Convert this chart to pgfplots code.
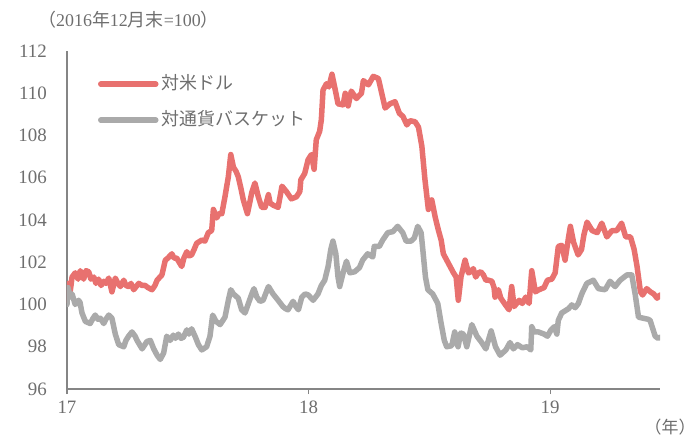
\documentclass[border=0pt]{standalone}
\usepackage{fontspec}
\setmainfont{Liberation Serif}
\newfontfamily\jp{Noto Sans CJK JP}
\usepackage{pgfplots}
\usepackage{pgfplotstable}
\pgfplotsset{compat=1.18}
\definecolor{cred}{HTML}{E8716F}
\definecolor{cgray}{HTML}{AAAAAA}
\definecolor{ctext}{HTML}{6E6E6E}
\definecolor{caxis}{HTML}{858585}

\pgfplotstableread{
x y
17.000 100.2
17.007 101.0
17.012 100.5
17.021 101.3
17.034 101.5
17.046 101.2
17.055 101.6
17.069 101.2
17.079 101.6
17.090 101.55
17.099 101.2
17.111 101.3
17.120 101.0
17.131 101.2
17.141 100.9
17.152 101.1
17.161 101.0
17.173 101.25
17.186 100.6
17.200 101.25
17.211 101.0
17.221 100.85
17.235 101.15
17.244 100.9
17.255 100.85
17.265 101.0
17.276 100.7
17.297 101.0
17.311 100.9
17.324 100.9
17.335 100.8
17.352 100.7
17.364 100.9
17.373 101.15
17.385 101.3
17.393 101.4
17.407 102.1
17.418 102.2
17.434 102.4
17.443 102.2
17.454 102.2
17.475 101.8
17.484 102.2
17.496 102.5
17.505 102.3
17.516 102.35
17.526 102.6
17.537 102.9
17.558 103.05
17.571 103.0
17.585 103.4
17.599 103.5
17.606 104.5
17.620 104.1
17.629 104.3
17.641 104.3
17.654 105.1
17.668 106.05
17.678 107.1
17.689 106.5
17.700 106.3
17.709 106.05
17.720 105.5
17.730 104.95
17.747 104.3
17.758 104.9
17.765 105.3
17.778 105.75
17.792 105.1
17.806 104.6
17.820 104.6
17.834 105.2
17.841 104.8
17.854 104.7
17.874 104.6
17.890 105.6
17.908 105.35
17.929 105.0
17.950 105.1
17.964 105.35
17.968 105.9
17.984 106.2
17.998 106.85
18.012 107.1
18.023 106.4
18.032 107.8
18.046 108.2
18.053 108.75
18.060 110.15
18.074 110.45
18.084 110.3
18.097 110.9
18.108 110.3
18.122 109.5
18.143 109.45
18.152 110.0
18.164 109.4
18.177 110.1
18.198 109.75
18.219 110.0
18.227 110.6
18.248 110.4
18.268 110.8
18.289 110.7
18.303 110.0
18.317 109.3
18.337 109.5
18.358 109.6
18.376 109.05
18.391 108.9
18.407 108.5
18.420 108.7
18.441 108.65
18.455 108.4
18.469 107.5
18.482 105.9
18.496 104.5
18.510 104.95
18.524 104.15
18.538 103.5
18.549 103.05
18.558 102.4
18.579 101.95
18.600 101.5
18.611 101.3
18.620 100.2
18.631 101.3
18.648 102.1
18.662 101.5
18.672 101.55
18.682 101.7
18.692 101.3
18.703 101.5
18.713 101.55
18.724 101.4
18.734 101.15
18.745 101.15
18.759 101.1
18.768 100.8
18.772 100.35
18.786 100.7
18.796 100.3
18.814 100.0
18.830 99.75
18.841 100.85
18.851 99.9
18.872 100.2
18.885 100.05
18.899 100.35
18.913 100.05
18.924 101.6
18.939 100.6
18.954 100.7
18.975 100.8
18.989 101.15
19.007 101.2
19.021 101.5
19.034 102.75
19.048 102.8
19.062 102.1
19.076 103.15
19.084 103.7
19.097 102.95
19.116 102.35
19.130 102.6
19.140 103.3
19.153 103.9
19.174 103.5
19.195 103.4
19.214 103.85
19.235 103.2
19.256 103.5
19.276 103.5
19.296 103.85
19.313 103.2
19.333 103.2
19.348 102.6
19.360 101.8
19.374 100.6
19.383 100.45
19.400 100.75
19.415 100.6
19.429 100.5
19.443 100.3
19.455 100.45
}\usd

\pgfplotstableread{
x y
17.000 100.0
17.004 100.8
17.014 100.35
17.021 100.5
17.034 100.0
17.048 100.2
17.054 100.1
17.062 99.6
17.076 99.2
17.096 99.1
17.108 99.35
17.117 99.5
17.128 99.3
17.138 99.35
17.152 99.1
17.161 99.3
17.173 99.5
17.186 99.35
17.200 98.6
17.214 98.1
17.235 98.0
17.244 98.3
17.255 98.5
17.269 98.7
17.282 98.5
17.290 98.3
17.311 97.9
17.331 98.25
17.345 98.3
17.359 97.9
17.373 97.6
17.386 97.4
17.400 97.7
17.413 98.5
17.427 98.3
17.440 98.55
17.449 98.4
17.461 98.6
17.472 98.4
17.482 98.45
17.496 98.8
17.505 98.6
17.516 98.85
17.530 98.5
17.544 98.1
17.558 97.85
17.578 98.0
17.592 98.5
17.603 99.5
17.617 99.2
17.634 99.05
17.654 99.4
17.668 100.2
17.678 100.7
17.689 100.5
17.709 100.3
17.723 99.75
17.737 99.6
17.751 100.05
17.765 100.5
17.774 100.75
17.786 100.35
17.799 100.15
17.812 100.2
17.822 100.5
17.834 100.85
17.853 100.5
17.874 100.2
17.894 99.9
17.905 99.8
17.915 99.75
17.936 100.15
17.948 99.9
17.958 99.75
17.972 100.35
17.986 100.5
17.999 100.45
18.019 100.2
18.039 100.5
18.053 100.9
18.067 101.15
18.081 101.8
18.092 102.6
18.101 103.0
18.113 102.4
18.122 101.3
18.129 100.85
18.143 101.5
18.157 102.05
18.171 101.5
18.191 101.55
18.211 101.75
18.224 102.1
18.245 102.4
18.266 102.25
18.272 102.75
18.293 102.75
18.307 103.05
18.328 103.4
18.349 103.45
18.369 103.7
18.390 103.4
18.404 103.0
18.424 103.0
18.438 103.15
18.452 103.7
18.466 103.4
18.473 102.6
18.484 101.3
18.494 100.7
18.514 100.5
18.535 100.05
18.549 99.1
18.562 98.3
18.572 98.0
18.593 98.05
18.605 98.7
18.619 98.0
18.630 98.65
18.641 98.6
18.655 98.0
18.676 99.05
18.697 98.5
18.717 98.2
18.734 97.9
18.756 98.75
18.774 98.0
18.793 97.6
18.817 97.85
18.834 98.2
18.848 97.9
18.865 98.1
18.885 97.95
18.905 98.0
18.920 97.85
18.924 98.95
18.934 98.7
18.952 98.7
18.975 98.6
18.989 98.5
19.004 98.8
19.017 98.95
19.028 98.6
19.034 99.25
19.048 99.6
19.076 99.8
19.090 99.98
19.104 99.85
19.117 100.05
19.131 100.5
19.152 101.0
19.179 101.15
19.200 100.75
19.228 100.7
19.248 101.1
19.269 100.85
19.290 101.15
19.318 101.4
19.338 101.4
19.352 100.5
19.366 99.4
19.386 99.35
19.406 99.3
19.414 99.25
19.435 98.5
19.447 98.4
19.455 98.45
}\basket

\begin{document}
\begin{tikzpicture}
\begin{axis}[
  scale only axis, width=593bp, height=338bp,
  xmin=17, xmax=19.455, ymin=96, ymax=112,
  clip mode=individual,
  axis x line*=bottom, axis y line*=left,
  axis line style={caxis, line width=1.2bp, -},
  xtick={17,18,19}, xticklabels={17,18,19},
  ytick={96,98,100,102,104,106,108,110,112},
  yticklabels={96,98,100,102,104,106,108,110,112},
  tick align=outside, major tick length=5bp,
  xtick style={caxis, line width=1.2bp},
  ytick style={draw=none},
  tick label style={font=\fontsize{19}{21}\selectfont, text=ctext, inner sep=0pt},
  yticklabel style={anchor=east, xshift=-15bp},
  xticklabel style={anchor=north, yshift=-7bp},
  legend style={draw=none, fill=none, at={(axis description cs:0.052,0.926)}, anchor=north west,
    inner sep=0pt, column sep=3bp, row sep=20bp,
    font=\jp\fontsize{18}{20}\selectfont, text=ctext,
    nodes={inner sep=0pt, text height=13bp, text depth=3bp}},
  legend cell align=left,
  legend image code/.code={\draw[#1, line width=5.5bp, line cap=round] (0bp,0bp) -- (55bp,0bp);},
]
\addplot[cred, line width=5.5bp, line join=round, line cap=round] table[x=x, y=y] {\usd};
\addlegendentry{対米ドル}
\addplot[cgray, line width=5.5bp, line join=round, line cap=round] table[x=x, y=y] {\basket};
\addlegendentry{対通貨バスケット}

\node[text=ctext, font=\fontsize{18}{20}\selectfont] at (rel axis cs:0.1037,1.0917)
  {{\jp （}2016{\jp 年}12{\jp 月末}=100{\jp ）}};
\node[text=ctext, font=\jp\fontsize{17}{19}\selectfont] at (rel axis cs:1.0169,-0.1124) {（年）};
\coordinate (bl) at (rel axis cs:-0.11298,-0.14793);
\coordinate (tr) at (rel axis cs:1.06239,1.15089);
\end{axis}
\pgfresetboundingbox
\path[use as bounding box] (bl) rectangle (tr);
\end{tikzpicture}
\end{document}
